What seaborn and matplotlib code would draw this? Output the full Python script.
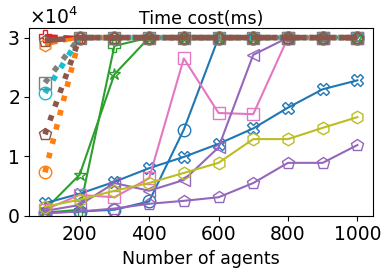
import numpy as np
import pandas as pd
import matplotlib
matplotlib.use("Agg")
import matplotlib.pyplot as plt
import seaborn as sb

#---- D A T A ----

agents = [100, 200, 300, 400, 500, 600, 700, 800, 900, 1000]

blue_o = [500, 700, 1000, 2400, 14500, 30000, 30000, 30000, 30000, 30000]
blue_x = [2100, 3700, 5700, 8000, 9900, 12100, 14700, 18200, 21300, 22800]
green_star = [1000, 6900, 23800, 30000, 30000, 30000, 30000, 30000, 30000, 30000]
green_plus = [500, 1000, 28600, 30000, 30000, 30000, 30000, 30000, 30000, 30000]
pink_s = [1000, 3500, 3100, 6300, 26500, 17300, 17100, 30000, 30000, 30000]
purple_tri = [800, 1800, 5500, 4200, 6000, 11500, 27100, 30000, 30000, 30000]
purple_p = [400, 700, 1200, 2000, 2500, 3100, 5500, 8900, 8900, 11900]
olive_h = [1500, 2700, 4200, 5500, 7200, 8900, 12900, 12900, 14800, 16600]

orange_dot = [7300, 30000, 30000, 30000, 30000, 30000, 30000, 30000, 30000, 30000]
brown_dot = [13700, 30000, 30000, 30000, 30000, 30000, 30000, 30000, 30000, 30000]
cyan_dot = [20700, 30000, 30000, 30000, 30000, 30000, 30000, 30000, 30000, 30000]
gray_dot = [22400, 30000, 30000, 30000, 30000, 30000, 30000, 30000, 30000, 30000]
orange_top = [28800, 30000, 30000, 30000, 30000, 30000, 30000, 30000, 30000, 30000]
brown_top = [29500, 30000, 30000, 30000, 30000, 30000, 30000, 30000, 30000, 30000]
red_top = [30300, 30000, 30000, 30000, 30000, 30000, 30000, 30000, 30000, 30000]

#---- P L O T ----

pal = sb.color_palette("tab10")
fig = plt.figure(figsize=(3.91, 2.73), dpi=100)
ax = fig.add_axes([0.075, 0.21, 0.879, 0.687])

# (values, color, marker, linestyle, linewidth)
series = [
    (red_top, pal[3], "P", "--", 2.5),
    (orange_top, pal[1], "h", "--", 2.5),
    (green_star, pal[2], "*", "-", 1.5),
    (green_plus, pal[2], "P", "-", 1.5),
    (blue_o, pal[0], "o", "-", 1.5),
    (blue_x, pal[0], "X", "-", 1.5),
    (pink_s, pal[6], "s", "-", 1.5),
    (purple_tri, pal[4], "<", "-", 1.5),
    (purple_p, pal[4], "p", "-", 1.5),
    (olive_h, pal[8], "h", "-", 1.5),
    (orange_dot, pal[1], "o", ":", 4),
    (cyan_dot, pal[9], "o", ":", 4),
    (gray_dot, pal[7], "s", ":", 4),
    (brown_dot, pal[5], "p", ":", 4),
    (brown_top, pal[5], "p", "--", 4),
]

for vals, col, mk, ls, lw in series:
    df = pd.DataFrame({"agents": agents, "time": vals})
    sb.lineplot(data=df, x="agents", y="time", ax=ax, color=col,
                marker=mk, markersize=9, markerfacecolor="none",
                markeredgecolor=col, markeredgewidth=1.0,
                linestyle=ls, linewidth=lw, legend=False)

ax.set_xlim(55, 1045)
ax.set_ylim(0, 31600)
ax.set_xticks([200, 400, 600, 800, 1000])
ax.set_yticks([0, 10000, 20000, 30000])
ax.ticklabel_format(style="sci", axis="y", scilimits=(0, 0), useMathText=True)
ax.yaxis.get_offset_text().set_fontsize(13.5)
ax.tick_params(labelsize=13.5)
ax.set_xlabel("Number of agents", fontsize=12.5)
ax.set_ylabel("")
ax.set_title("Time cost(ms)", fontsize=12.5, pad=3)

plt.savefig("out.png", dpi=100)
